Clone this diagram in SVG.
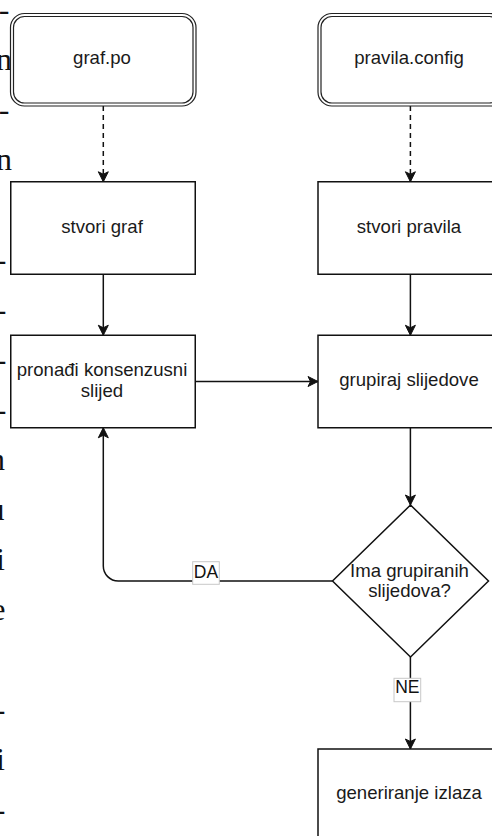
<svg xmlns="http://www.w3.org/2000/svg" width="492" height="836" viewBox="0 0 492 836">
  <defs>
    <marker id="arrow" markerUnits="userSpaceOnUse" markerWidth="12" markerHeight="12" refX="10" refY="5" orient="auto" overflow="visible">
      <path d="M0,0 L10,5 L0,10 L2.5,5 Z" fill="#111" stroke="#111" stroke-width="1"/>
    </marker>
  </defs>
  <style>
    .box{fill:#fff;stroke:#111;stroke-width:1.5}
    .io{fill:#fff;stroke:#222;stroke-width:1.2}
    .lbl{font-family:"Liberation Sans",Arial,sans-serif;font-size:18.6px;fill:#1a1a1a;text-anchor:middle}
    .edge{fill:none;stroke:#111;stroke-width:1.5;marker-end:url(#arrow)}
    .dash{stroke-dasharray:5 4}
    .tag rect{fill:#fff;stroke:#c8c8c8;stroke-width:1}
    .tag text{font-family:"Liberation Sans",Arial,sans-serif;font-size:17.5px;fill:#111;text-anchor:middle}
    .margin text{font-family:"Liberation Serif","Times New Roman",serif;font-size:32px;fill:#111;text-anchor:end}
  </style>
  <rect width="492" height="836" fill="#fff"/>

  <!-- line ends of the neighbouring text column -->
  <g class="margin">
    <text x="9.5" y="20">-</text>
    <text x="12" y="70">n</text>
    <text x="9.5" y="120">-</text>
    <text x="12" y="170">n</text>
    <text x="6.5" y="270">-</text>
    <text x="6.5" y="320">-</text>
    <text x="6.5" y="370">-</text>
    <text x="6.5" y="420">-</text>
    <text x="5" y="470">n</text>
    <text x="4.5" y="520">u</text>
    <text x="5" y="570">i</text>
    <text x="5.5" y="620">e</text>
    <text x="5.5" y="720">-</text>
    <text x="5" y="770">i</text>
    <text x="5.5" y="820">-</text>
  </g>

  <!-- connectors -->
  <g id="connectors">
    <path class="edge dash" d="M103.3,106 V181.75"/>
    <path class="edge dash" d="M410.4,106 V181.75"/>
    <path class="edge" d="M103.3,274.25 V335.25"/>
    <path class="edge" d="M410.4,274.25 V335.25"/>
    <path class="edge" d="M195.5,381.5 H318"/>
    <path class="edge" d="M410.4,427.75 V505"/>
    <path class="edge" d="M332.5,581 H118.3 A15,15 0 0 1 103.3,566 V427.75"/>
    <path class="edge" d="M410.4,657 V749"/>
    <g class="tag">
      <rect x="192.7" y="561.7" width="26.6" height="22.6"/>
      <text x="206" y="577.7">DA</text>
    </g>
    <g class="tag">
      <rect x="394" y="678.3" width="26.7" height="23.4"/>
      <text x="407.3" y="693.3">NE</text>
    </g>
  </g>

  <!-- nodes -->
  <g id="graf-po">
    <rect class="io" x="10.5" y="13.5" width="185.5" height="92.5" rx="14"/>
    <rect class="io" x="13.5" y="16.5" width="179.5" height="86.5" rx="11"/>
    <text class="lbl" x="102" y="64">graf.po</text>
  </g>
  <g id="pravila-config">
    <rect class="io" x="318" y="13.5" width="185.5" height="92.5" rx="14"/>
    <rect class="io" x="321" y="16.5" width="179.5" height="86.5" rx="11"/>
    <text class="lbl" x="409" y="64">pravila.config</text>
  </g>
  <g id="stvori-graf">
    <rect class="box" x="10.75" y="181.75" width="184.5" height="92.5"/>
    <text class="lbl" x="102" y="233">stvori graf</text>
  </g>
  <g id="stvori-pravila">
    <rect class="box" x="318" y="181.75" width="184.5" height="92.5"/>
    <text class="lbl" x="409" y="233">stvori pravila</text>
  </g>
  <g id="pronadi-konsenzusni-slijed">
    <rect class="box" x="10.75" y="335.25" width="184.5" height="92.5"/>
    <text class="lbl" x="102" y="376">pronađi konsenzusni</text>
    <text class="lbl" x="102" y="397.3">slijed</text>
  </g>
  <g id="grupiraj-slijedove">
    <rect class="box" x="318" y="335.25" width="184.5" height="92.5"/>
    <text class="lbl" x="409" y="386">grupiraj slijedove</text>
  </g>
  <g id="ima-grupiranih-slijedova">
    <polygon class="box" points="410.5,505 488.5,581 410.5,657 332.5,581"/>
    <text class="lbl" x="409.5" y="576.5">Ima grupiranih</text>
    <text class="lbl" x="409.5" y="597">slijedova?</text>
  </g>
  <g id="generiranje-izlaza">
    <rect class="box" x="318" y="749" width="184.5" height="92.5"/>
    <text class="lbl" x="409" y="799">generiranje izlaza</text>
  </g>
</svg>
